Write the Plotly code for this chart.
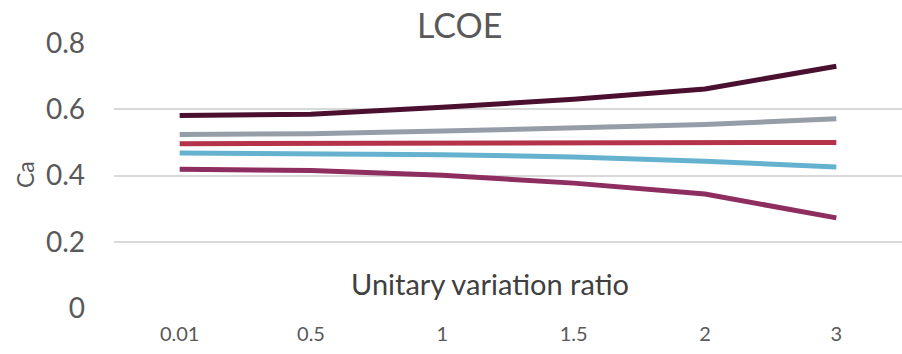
import plotly.graph_objects as go

categories = ["0.01", "0.5", "1", "1.5", "2", "3"]
series_dark = [0.581, 0.585, 0.606, 0.630, 0.661, 0.730]
series_gray = [0.524, 0.526, 0.534, 0.544, 0.554, 0.571]
series_red = [0.496, 0.497, 0.498, 0.498, 0.499, 0.500]
series_blue = [0.468, 0.466, 0.463, 0.456, 0.443, 0.426]
series_purple = [0.419, 0.415, 0.401, 0.377, 0.344, 0.272]
y_ticks = [0, 0.2, 0.4, 0.6, 0.8]
y_tick_labels = ["0", "0.2", "0.4", "0.6", "0.8"]

FONT = "Lato"
TXT = "#595959"

fig = go.Figure()
for vals, col in [
    (series_purple, "#8E2D5F"),
    (series_blue, "#65B2D0"),
    (series_red, "#B5334A"),
    (series_gray, "#959EA8"),
    (series_dark, "#4B1030"),
]:
    fig.add_trace(go.Scatter(x=categories, y=vals, mode="lines",
                             line=dict(color=col, width=5),
                             showlegend=False, hoverinfo="skip"))

fig.update_layout(
    width=902, height=354,
    margin=dict(l=114, r=0, t=43, b=46),
    paper_bgcolor="white", plot_bgcolor="white",
    font=dict(family=FONT, color=TXT),
    xaxis=dict(type="category", range=[-0.5, 5.5], showgrid=False,
               showline=False, zeroline=False, ticks="",
               tickfont=dict(size=20, color=TXT, family=FONT),
               ticklabelstandoff=12),
    yaxis=dict(range=[0, 0.8], tickvals=y_ticks, ticktext=y_tick_labels,
               showgrid=True, gridcolor="#D9D9D9", gridwidth=1.5,
               zeroline=False, showline=False, ticks="",
               tickfont=dict(size=28, color=TXT, family=FONT),
               ticklabelstandoff=28),
    annotations=[
        dict(text="LCOE", x=459, y=24, xref="paper", yref="paper",
             showarrow=False, font=dict(size=34, color=TXT, family=FONT),
             xanchor="center", yanchor="middle"),
        dict(text="Unitary variation ratio", x=490, y=283,
             showarrow=False, font=dict(size=29, color="#404040", family=FONT),
             xanchor="center", yanchor="middle"),
        dict(text="Ca", x=25, y=175, textangle=-90,
             showarrow=False, font=dict(size=23, color=TXT, family=FONT),
             xanchor="center", yanchor="middle"),
    ],
)

# convert pixel positions of annotations into paper coords
W, H = 902, 354
pl, pr, pt, pb = 114, 0, 43, 46
pw, ph = W - pl - pr, H - pt - pb
for a in fig.layout.annotations:
    px, py = a.x, a.y
    a.xref = "paper"; a.yref = "paper"
    a.x = (px - pl) / pw
    a.y = (H - pb - py) / ph

fig.write_html("out.html")
